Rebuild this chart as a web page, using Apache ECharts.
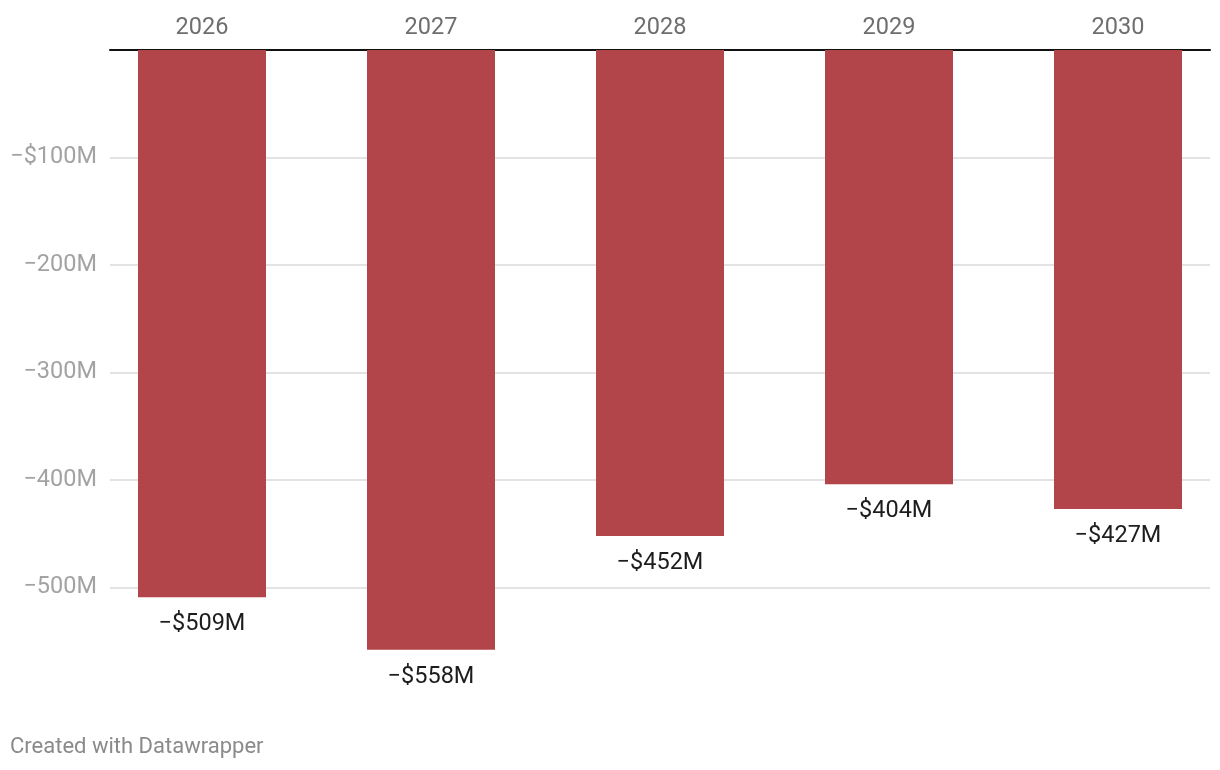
<!DOCTYPE html>
<html>
<head>
<meta charset="utf-8">
<script src="https://cdn.jsdelivr.net/npm/echarts@6/dist/echarts.min.js"></script>
<style>
html,body{margin:0;padding:0;background:#fff;}
#chart{width:1220px;height:770px;}
</style>
</head>
<body>
<div id="chart"></div>
<script>
const categories = ['2026', '2027', '2028', '2029', '2030'];
const values = [-509, -558, -452, -404, -427];
const yTicks = [-600, -500, -400, -300, -200, -100, 0];

function fmtTick(v) {
  if (v === -100) return '\u2212$100M';
  if (v === 0 || v === -600) return '';
  return '\u2212' + Math.abs(v) + 'M';
}

const chart = echarts.init(document.getElementById('chart'), null, {renderer: 'canvas'});
const FONT = 'Roboto';
chart.setOption({
  animation: false,
  backgroundColor: '#fff',
  textStyle: {fontFamily: FONT},
  grid: [
    {left: 110, width: 1100, top: 50, height: 645, outerBoundsMode: 'none', containLabel: false},
    {left: 87.5, width: 1145, top: 50, height: 645, outerBoundsMode: 'none', containLabel: false}
  ],
  xAxis: [
    {gridIndex: 0, type: 'category', data: categories, position: 'top',
     axisLine: {show: true, lineStyle: {color: '#111', width: 2}},
     axisTick: {show: false}, axisLabel: {show: false}, splitLine: {show: false}},
    {gridIndex: 1, type: 'category', data: categories, position: 'top',
     axisLine: {show: false}, axisTick: {show: false},
     axisLabel: {color: '#6e6e6e', fontSize: 23.5, margin: 10, fontFamily: FONT}}
  ],
  yAxis: [
    {gridIndex: 0, type: 'value', min: yTicks[0], max: yTicks[yTicks.length - 1], interval: 100,
     axisLine: {show: false}, axisTick: {show: false},
     axisLabel: {color: '#a3a3a3', fontSize: 23.5, margin: 13, formatter: fmtTick, fontFamily: FONT},
     splitLine: {show: true, lineStyle: {color: ['rgba(0,0,0,0)', '#e3e3e3', '#e3e3e3', '#e3e3e3', '#e3e3e3', '#e3e3e3', 'rgba(0,0,0,0)'], width: 2}}},
    {gridIndex: 1, type: 'value', min: yTicks[0], max: yTicks[yTicks.length - 1], interval: 100,
     axisLine: {show: false}, axisTick: {show: false}, axisLabel: {show: false}, splitLine: {show: false}}
  ],
  series: [{
    type: 'bar',
    xAxisIndex: 1, yAxisIndex: 1,
    data: values,
    barWidth: 128,
    itemStyle: {color: '#b2454a'},
    label: {
      show: true, position: 'bottom', distance: 15,
      color: '#1d1d1d', fontSize: 23.5, fontFamily: FONT,
      formatter: p => '\u2212$' + Math.abs(p.value) + 'M'
    }
  }],
  graphic: [{
    type: 'text', left: 10, top: 736,
    style: {text: 'Created with Datawrapper', fill: '#8a8a8a', fontSize: 22, fontFamily: FONT}
  }]
});
</script>
</body>
</html>
